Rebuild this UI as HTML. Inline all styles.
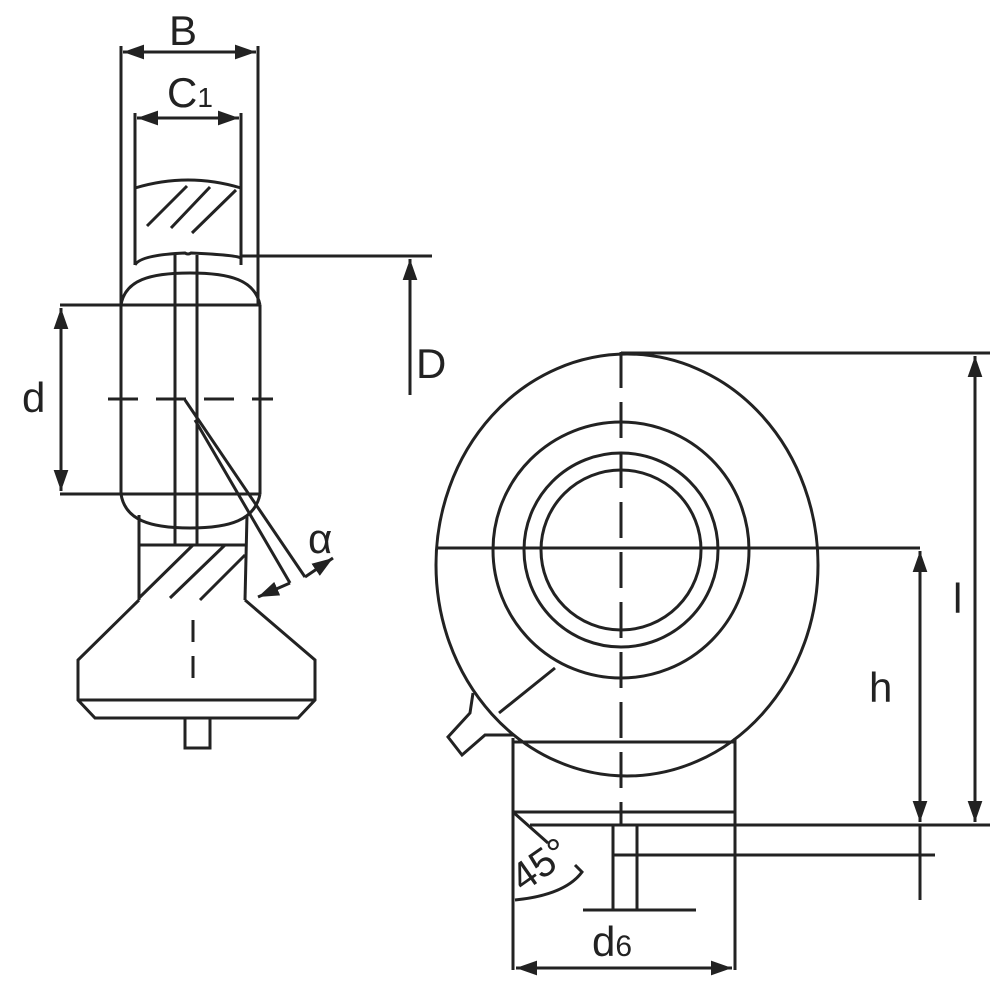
<!DOCTYPE html>
<html><head><style>html,body{margin:0;background:#fff}svg{display:block}</style></head><body>
<svg width="1000" height="1000" viewBox="0 0 1000 1000" xmlns="http://www.w3.org/2000/svg">
<defs>
<marker id="a" viewBox="0 0 10 10" refX="10" refY="5" markerWidth="7" markerHeight="7" orient="auto-start-reverse"><path d="M0,1.5 L10,5 L0,8.5 z" fill="#222"/></marker>
</defs>
<g stroke="#222" stroke-width="3" fill="none" stroke-linecap="butt">
<line x1="121" y1="46" x2="121" y2="305"/><line x1="258" y1="46" x2="258" y2="305"/>
<line x1="123" y1="52" x2="256" y2="52" marker-start="url(#a)" marker-end="url(#a)"/>
<line x1="135" y1="113" x2="135" y2="265"/><line x1="241" y1="113" x2="241" y2="265"/>
<line x1="137" y1="118" x2="239" y2="118" marker-start="url(#a)" marker-end="url(#a)"/>
<path d="M135,188 Q188,172 241,188"/>
<line x1="147" y1="226" x2="187" y2="186"/><line x1="171" y1="228" x2="210" y2="187"/><line x1="192" y1="233" x2="236" y2="190"/>
<path d="M135,265 Q140,255 185,253 Q188,255 191,253 Q236,255 241,258"/>
<line x1="241" y1="256" x2="432" y2="256"/>
<line x1="410" y1="395" x2="410" y2="259" marker-end="url(#a)"/>
<path d="M121,305 C125,280 150,273 190,273 C230,273 255,280 260,305"/>
<line x1="60" y1="305" x2="260" y2="305"/><line x1="60" y1="494" x2="260" y2="494"/>
<line x1="121" y1="305" x2="121" y2="494"/><line x1="260" y1="305" x2="260" y2="494"/>
<path d="M121,494 C125,520 150,528 190,528 C230,528 255,520 260,494"/>
<line x1="175" y1="255" x2="175" y2="545"/><line x1="197" y1="255" x2="197" y2="545"/>
<line x1="108" y1="399" x2="273" y2="399" stroke-dasharray="30,18"/>
<line x1="61" y1="308" x2="61" y2="491" marker-start="url(#a)" marker-end="url(#a)"/>
<line x1="185" y1="400" x2="305" y2="577"/><line x1="195" y1="420" x2="290" y2="583"/>
<line x1="305" y1="577" x2="333" y2="558" marker-end="url(#a)"/>
<line x1="290" y1="583" x2="258" y2="597" marker-end="url(#a)"/>
<line x1="139" y1="515" x2="139" y2="600"/><line x1="247" y1="515" x2="245" y2="600"/>
<line x1="139" y1="545" x2="245" y2="545"/>
<line x1="139" y1="598" x2="193" y2="545"/><line x1="170" y1="598" x2="225" y2="545"/><line x1="200" y1="600" x2="245" y2="555"/>
<path d="M139,600 L78,660 L78,700 L95,718 L298,718 L315,700 L315,660 L245,600"/>
<line x1="78" y1="700" x2="315" y2="700"/>
<rect x="185" y="718" width="25" height="30"/>
<line x1="193" y1="620" x2="193" y2="685" stroke-dasharray="22,14"/>
<ellipse cx="627" cy="565" rx="191" ry="211"/>
<circle cx="621" cy="550" r="128"/><circle cx="621" cy="550" r="97"/><circle cx="621" cy="550" r="80"/>
<line x1="436" y1="548" x2="920" y2="548"/>
<line x1="621" y1="352" x2="621" y2="825" stroke-dasharray="36,14"/>
<line x1="621" y1="353" x2="990" y2="353"/>
<line x1="975" y1="356" x2="975" y2="822" marker-start="url(#a)" marker-end="url(#a)"/>
<line x1="920" y1="551" x2="920" y2="822" marker-start="url(#a)" marker-end="url(#a)"/>
<line x1="920" y1="825" x2="920" y2="900"/>
<line x1="513" y1="738" x2="513" y2="970"/><line x1="735" y1="738" x2="735" y2="970"/>
<line x1="513" y1="742" x2="735" y2="742"/>
<line x1="513" y1="812" x2="735" y2="812"/>
<line x1="530" y1="825" x2="990" y2="825"/>
<line x1="613" y1="825" x2="613" y2="910"/><line x1="637" y1="825" x2="637" y2="910"/>
<line x1="614" y1="855" x2="935" y2="855"/>
<line x1="583" y1="910" x2="696" y2="910"/>
<line x1="513" y1="812" x2="548" y2="843"/>
<path d="M515,900 Q565,895 582,872 L575,865"/>
<line x1="516" y1="968" x2="732" y2="968" marker-start="url(#a)" marker-end="url(#a)"/>
<path d="M473,693 L470,713 L448,737 L462,755 L485,735 L513,735"/>
<line x1="499" y1="713" x2="555" y2="668"/>
</g>
<g font-family="'Liberation Sans',sans-serif" fill="#222">
<text x="169" y="45" font-size="42">B</text>
<text x="167" y="107" font-size="42">C<tspan font-size="28">1</tspan></text>
<text x="22" y="412" font-size="42">d</text>
<text x="416" y="378" font-size="42">D</text>
<text x="308" y="553" font-size="42">α</text>
<text x="953" y="613" font-size="42">l</text>
<text x="869" y="702" font-size="42">h</text>
<text x="592" y="956" font-size="42">d<tspan font-size="30">6</tspan></text>
<text x="0" y="0" font-size="40" transform="translate(523,893) rotate(-35)">45°</text>
</g>
</svg>
</body></html>
